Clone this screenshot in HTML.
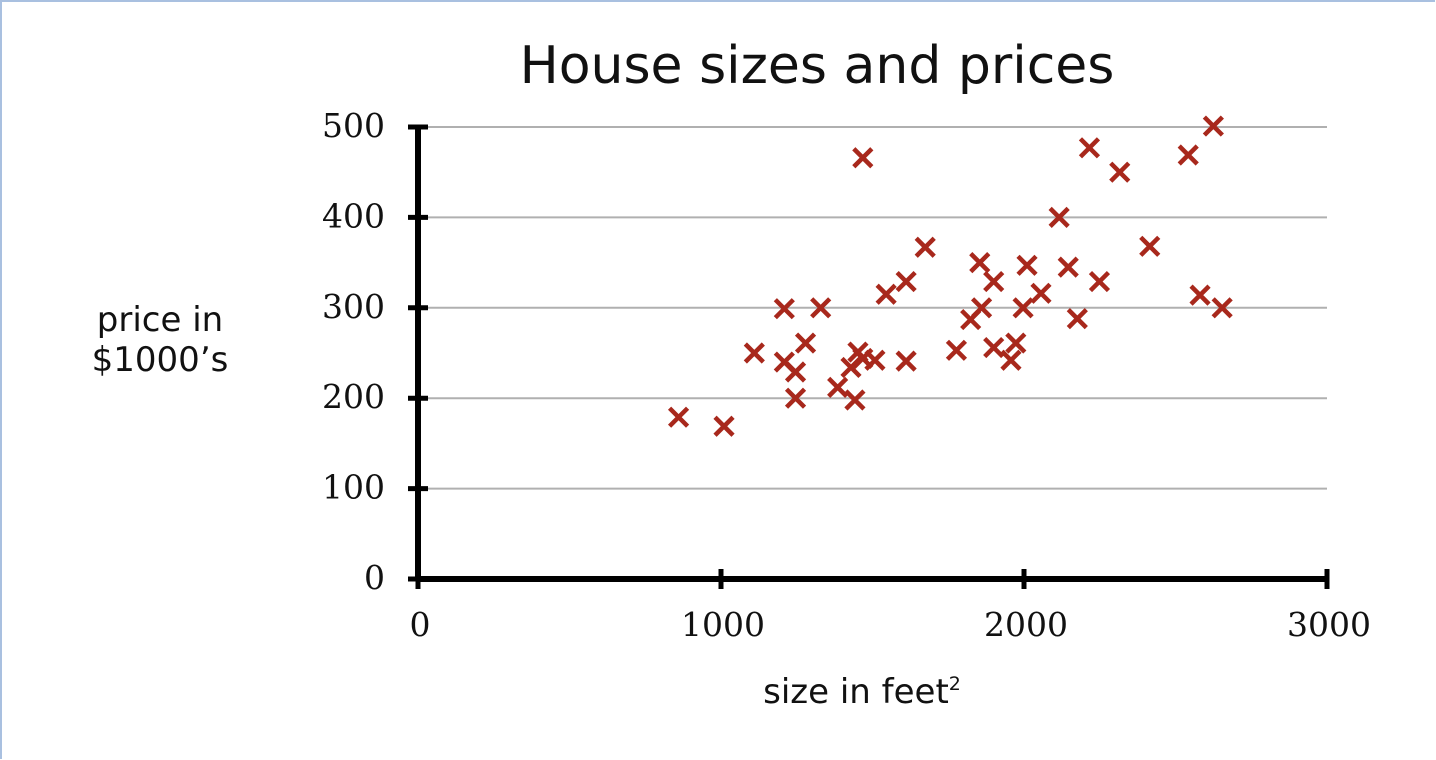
<!DOCTYPE html>
<html><head><meta charset="utf-8"><style>
body{margin:0;width:1436px;height:760px;background:#fff;overflow:hidden;position:relative}
.frame{position:absolute;left:0;top:0;width:1435px;height:759px;border-left:2px solid #a9c0e0;border-top:2px solid #a9c0e0;box-sizing:border-box}
</style></head><body>
<div class="frame"></div>
<svg id="chart" width="1436" height="760" style="position:absolute;left:0;top:0">
<text x="817" y="83" text-anchor="middle" font-family="DejaVu Sans, sans-serif" font-size="52" fill="#111">House sizes and prices</text>
<text x="160" y="331" text-anchor="middle" font-family="DejaVu Sans, sans-serif" font-size="34" fill="#111">price in</text>
<text x="160" y="371" text-anchor="middle" font-family="DejaVu Sans, sans-serif" font-size="34" fill="#111">$1000’s</text>
<text x="862" y="703" text-anchor="middle" font-family="DejaVu Sans, sans-serif" font-size="34" fill="#111">size in feet<tspan font-size="19" dy="-13">2</tspan></text>
<g id="grid"></g><g id="axes"></g><g id="marks"></g>
</svg>
<script>
const xs=[860,1010,1110,1209,1329,1279,1209,1246,1246,1468,1674,1611,1545,1611,1508,1452,1468,1429,1385,1442,1777,1824,1860,1854,1900,1900,1957,1973,2010,1997,2056,2116,2146,2216,2176,2249,2316,2415,2542,2625,2581,2654];
const ys=[179,169,250,299,300,261,240,229,200,466,367,329,315,241,242,251,244,234,212,198,253,287,300,350,329,256,242,261,347,300,316,400,345,477,288,329,450,368,469,501,314,300];
const xTicks=[0,1000,2000,3000];
const yTicks=[0,100,200,300,400,500];
const NS='http://www.w3.org/2000/svg';
const X=v=>418+v*(1327-418)/3000;
const Y=v=>579-v*(579-127)/500;
function mk(t,a,p){const e=document.createElementNS(NS,t);for(const k in a)e.setAttribute(k,a[k]);p.appendChild(e);return e;}
const grid=document.getElementById('grid'),axes=document.getElementById('axes'),marks=document.getElementById('marks');
yTicks.forEach(v=>{
  if(v>0){const g=mk('line',{x1:X(0),x2:X(3000),y1:Y(v),y2:Y(v),stroke:'#b0b0b0','stroke-width':2},grid);
  
  }
  const tk=mk('line',{x1:X(0)-10,x2:X(0)+10,y1:Y(v),y2:Y(v),stroke:'#000','stroke-width':5},axes);
  
  
  const t=mk('text',{x:385,y:Y(v)+10,'text-anchor':'end','font-family':'DejaVu Serif, serif','font-size':33,fill:'#111'},axes);
  t.textContent=v;
  
  
});
xTicks.forEach(v=>{
  const tk=mk('line',{x1:X(v),x2:X(v),y1:Y(0)-10,y2:Y(0)+10,stroke:'#000','stroke-width':5},axes);
  
  
  const t=mk('text',{x:X(v)+2,y:636,'text-anchor':'middle','font-family':'DejaVu Serif, serif','font-size':33,fill:'#111'},axes);
  t.textContent=v;
  
  
});
const ya=mk('line',{x1:X(0),x2:X(0),y1:Y(500)-2,y2:Y(0)+2,stroke:'#000','stroke-width':6},axes);


const xa=mk('line',{x1:X(0)-2,x2:X(3000)+2,y1:Y(0),y2:Y(0),stroke:'#000','stroke-width':6},axes);


xs.forEach((v,i)=>{
  const cx=X(v),cy=Y(ys[i]),s=9;
  const p=mk('path',{d:`M${cx-s},${cy-s}L${cx+s},${cy+s}M${cx+s},${cy-s}L${cx-s},${cy+s}`,stroke:'#a8281c','stroke-width':4.5,fill:'none'},marks);
  
  
});
</script>
</body></html>
